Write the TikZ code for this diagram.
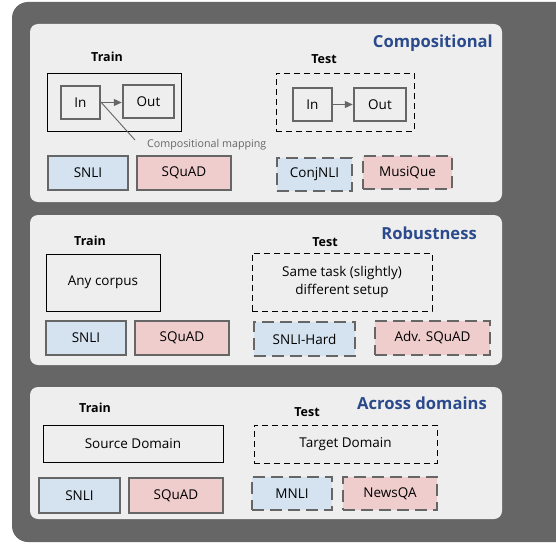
\documentclass[tikz,border=0pt]{standalone}
\usepackage{fontspec}
\setmainfont{Open Sans}
\usetikzlibrary{arrows.meta}
\definecolor{outerc}{HTML}{666666}
\definecolor{panelc}{HTML}{EEEEEE}
\definecolor{titlec}{HTML}{2B4A8C}
\definecolor{bluef}{HTML}{D5E3F1}
\definecolor{redf}{HTML}{F0CDCD}
\definecolor{grayl}{HTML}{666666}
\tikzset{
  panel/.style={fill=panelc, draw=none, rounded corners=8pt},
  ttl/.style={font=\fontsize{16.6}{19}\selectfont\bfseries, text=titlec, anchor=east, inner sep=0pt},
  hdr/.style={font=\fontsize{12.5}{15}\selectfont\bfseries, inner sep=0pt},
  bbox/.style={draw=black, line width=1pt, inner sep=0pt, align=center, font=\fontsize{13.5}{18}\selectfont},
  dbox/.style={bbox, dash pattern=on 6pt off 4pt},
  gbox/.style={draw=grayl, line width=2.5pt, inner sep=0pt, font=\fontsize{13.5}{16}\selectfont},
  gdbox/.style={gbox, line width=2.8pt, dash pattern=on 12pt off 6pt},
  bluebox/.style={gbox, fill=bluef},
  redbox/.style={gbox, fill=redf},
  bluedbox/.style={gdbox, fill=bluef},
  reddbox/.style={gdbox, fill=redf},
  garrow/.style={draw=grayl, line width=1.3pt, -{Triangle[length=8pt,width=7pt]}},
}
\newcommand{\rbox}[7]{% name, style, x1, y1, x2, y2, text
  \node[#2, minimum width={#5-#3}, minimum height={#6-#4}] (#1) at ({(#3+#5)/2},{(#4+#6)/2}) {#7};}
\begin{document}
\begin{tikzpicture}[x=1pt,y=-1pt]
\useasboundingbox (0,0) rectangle (556,543);
\fill[outerc, rounded corners=16pt] (12,2) rectangle (575,542);
% panels
\fill[panel] (30,24) rectangle (502,202);
\fill[panel] (30,215) rectangle (502,365);
\fill[panel] (30,387) rectangle (502,519);

% ---------- Panel 1: Compositional
\node[ttl] (t1) at (493,43) {Compositional};
\node[hdr] (tr1) at (107,57) {Train};
\node[hdr] (te1) at (324,59) {Test};
\rbox{trbox1}{bbox}{47}{73}{181}{131}{}
\rbox{in1}{gbox}{61}{86}{100}{119}{In}
\rbox{out1}{gbox}{123}{85}{174}{118}{Out}
\draw[garrow] (in1.east) -- (out1.west |- in1.east);
\rbox{tebox1}{dbox}{276}{73}{414}{131}{}
\rbox{in2}{gbox}{293}{88}{332}{121}{In}
\rbox{out2}{gbox}{354}{88}{406}{121}{Out}
\draw[garrow] (in2.east) -- (out2.west);
\coordinate (cmend) at (135,140);
\draw[grayl, line width=0.9pt] (in1.east) -- (cmend);
\node[font=\fontsize{10.7}{13}\selectfont, text=grayl, anchor=west, inner sep=0pt] (cmlab) at (147,145) {Compositional mapping};
\rbox{snli1}{bluebox}{48}{156}{128}{190}{SNLI}
\rbox{squad1}{redbox}{137}{156}{231}{190}{SQuAD}
\rbox{conj}{bluedbox}{277}{158}{352}{191}{ConjNLI}
\rbox{musi}{reddbox}{363}{156}{452}{189}{MusiQue}

% ---------- Panel 2: Robustness
\node[ttl] (t2) at (477,233) {Robustness};
\node[hdr] (tr2) at (90,241) {Train};
\node[hdr] (te2) at (325,242) {Test};
\rbox{any}{bbox}{46}{254}{160}{311}{Any corpus}
\rbox{same}{dbox}{252}{253}{432}{311}{Same task (slightly)\\different setup}
\rbox{snli2}{bluebox}{46}{321}{126}{355}{SNLI}
\rbox{squad2}{redbox}{135}{321}{229}{355}{SQuAD}
\rbox{snlih}{bluedbox}{254}{322}{355}{356}{SNLI-Hard}
\rbox{advsq}{reddbox}{375}{321}{490}{355}{Adv. SQuAD}

% ---------- Panel 3: Across domains
\node[ttl] (t3) at (487,403) {Across domains};
\node[hdr] (tr3) at (95,408) {Train};
\node[hdr] (te3) at (307,412) {Test};
\rbox{src}{bbox}{43}{425}{223}{462}{Source Domain}
\rbox{tgt}{dbox}{254}{425}{437}{463}{Target Domain}
\rbox{snli3}{bluebox}{39}{478}{120}{513}{SNLI}
\rbox{squad3}{redbox}{129}{478}{223}{513}{SQuAD}
\rbox{mnli}{bluedbox}{252}{477}{332}{510}{MNLI}
\rbox{news}{reddbox}{343}{477}{437}{510}{NewsQA}
\end{tikzpicture}
\end{document}
